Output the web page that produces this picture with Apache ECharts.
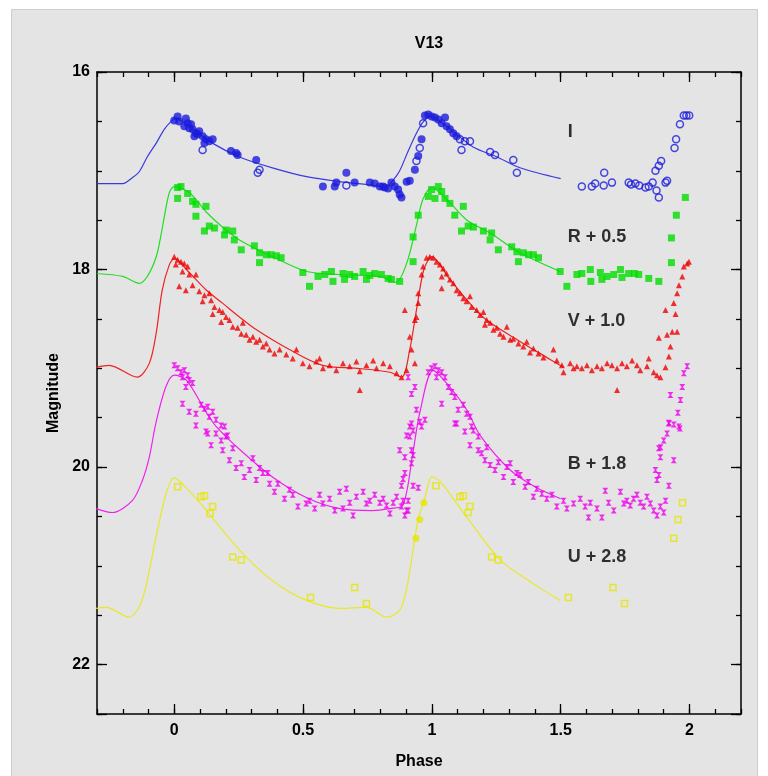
<!DOCTYPE html>
<html>
<head>
<meta charset="utf-8">
<script src="https://cdn.jsdelivr.net/npm/echarts@6/dist/echarts.min.js"></script>
<style>
html,body{margin:0;padding:0;background:#fff;}
#chart{width:768px;height:776px;}
</style>
</head>
<body>
<div id="chart"></div>
<script>
// ---------- tick values ----------
const xMajor = [0, 0.5, 1, 1.5, 2];
const xMinor = [-0.3,-0.2,-0.1,0,0.1,0.2,0.3,0.4,0.5,0.6,0.7,0.8,0.9,1,1.1,1.2,1.3,1.4,1.5,1.6,1.7,1.8,1.9,2,2.1,2.2];
const yLabels = [16, 18, 20, 22];

// ---------- template curves [phase, magnitude] ----------
const iCurve = [[-0.3,17.13],[-0.2,17.13],[-0.163,17.07],[-0.136,17.01],[-0.105,16.86],[-0.07,16.72],[-0.039,16.58],[-0.012,16.50],[0.004,16.47],[0.058,16.55],[0.148,16.72],[0.253,16.86],[0.381,16.97],[0.514,17.06],[0.642,17.11],[0.75,17.14],[0.82,17.16],[0.848,17.10],[0.875,17.00],[0.908,16.80],[0.94,16.62],[0.965,16.51],[0.992,16.45],[1.058,16.55],[1.16,16.76],[1.253,16.86],[1.342,16.97],[1.5,17.08]];
const rCurve = [[-0.3,18.04],[-0.2,18.07],[-0.136,18.14],[-0.105,18.07],[-0.07,17.87],[-0.05,17.63],[-0.039,17.47],[-0.019,17.22],[0.0,17.16],[0.058,17.22],[0.125,17.42],[0.187,17.57],[0.253,17.70],[0.381,17.87],[0.514,18.02],[0.642,18.05],[0.798,18.07],[0.86,18.13],[0.903,17.93],[0.942,17.53],[0.965,17.29],[1.0,17.17],[1.058,17.29],[1.136,17.50],[1.226,17.63],[1.342,17.83],[1.498,18.02]];
const vCurve = [[-0.303,18.99],[-0.253,18.97],[-0.144,19.09],[-0.097,18.95],[-0.07,18.64],[-0.047,18.21],[-0.019,17.95],[0.0,17.89],[0.058,18.03],[0.125,18.21],[0.187,18.34],[0.253,18.48],[0.319,18.61],[0.447,18.81],[0.576,18.97],[0.708,19.00],[0.837,19.04],[0.883,19.09],[0.914,18.81],[0.942,18.38],[0.969,18.0],[1.0,17.87],[1.07,18.10],[1.198,18.48],[1.331,18.71],[1.459,18.91],[1.51,18.99]];
const bCurve = [[-0.303,20.42],[-0.241,20.46],[-0.163,20.34],[-0.123,20.13],[-0.097,19.90],[-0.071,19.55],[-0.033,19.19],[0.0,19.07],[0.047,19.12],[0.125,19.45],[0.163,19.59],[0.253,19.82],[0.381,20.10],[0.514,20.31],[0.642,20.42],[0.77,20.44],[0.837,20.42],[0.887,20.39],[0.926,19.86],[0.953,19.45],[1.005,19.02],[1.07,19.19],[1.135,19.42],[1.19,19.69],[1.304,20.03],[1.4,20.20],[1.5,20.32]];
const uCurve = [[-0.303,21.43],[-0.265,21.42],[-0.175,21.52],[-0.125,21.35],[-0.071,20.71],[-0.032,20.27],[0.0,20.11],[0.047,20.21],[0.125,20.44],[0.253,20.84],[0.381,21.15],[0.514,21.35],[0.642,21.43],[0.747,21.42],[0.825,21.52],[0.875,21.45],[0.903,21.22],[0.946,20.54],[0.973,20.31],[1.0,20.10],[1.031,20.14],[1.136,20.51],[1.265,20.94],[1.393,21.18],[1.498,21.35]];

// ---------- observed points [phase, magnitude] ----------
const iFilled = [[0.0,16.49],[0.013,16.45],[0.019,16.50],[0.045,16.47],[0.052,16.52],[0.039,16.55],[0.058,16.57],[0.071,16.58],[0.084,16.62],[0.097,16.60],[0.110,16.65],[0.123,16.68],[0.136,16.70],[0.149,16.68],[0.117,16.72],[0.091,16.63],[0.065,16.53],[0.078,16.65],[0.22,16.80],[0.24,16.82],[0.246,16.84],[0.318,16.89],[0.577,17.16],[0.623,17.16],[0.629,17.12],[0.668,17.02],[0.70,17.12],[0.759,17.12],[0.778,17.13],[0.798,17.16],[0.817,17.17],[0.83,17.18],[0.81,17.16],[0.843,17.12],[0.856,17.16],[0.869,17.19],[0.875,17.24],[0.882,17.27],[0.902,17.11],[0.914,17.10],[0.934,16.99],[0.947,16.85],[0.96,16.68],[0.973,16.44],[0.986,16.43],[0.999,16.45],[1.012,16.46],[1.025,16.48],[1.038,16.52],[1.051,16.46],[1.057,16.55],[1.07,16.58],[1.083,16.62],[1.096,16.65]];
const iOpen = [[0.110,16.79],[0.324,17.02],[0.331,16.99],[0.668,17.15],[0.94,16.90],[0.953,16.77],[0.966,16.52],[1.109,16.68],[1.128,16.70],[1.148,16.70],[1.115,16.79],[1.226,16.81],[1.245,16.84],[1.316,16.89],[1.33,17.02],[1.582,17.16],[1.621,17.16],[1.634,17.13],[1.667,17.15],[1.669,17.02],[1.699,17.12],[1.764,17.12],[1.773,17.14],[1.79,17.13],[1.805,17.15],[1.829,17.17],[1.842,17.16],[1.857,17.12],[1.872,17.20],[1.881,17.27],[1.907,17.12],[1.913,17.10],[1.868,17.00],[1.881,16.95],[1.89,16.90],[1.942,16.77],[1.948,16.68],[1.963,16.53],[1.978,16.44],[1.988,16.44],[1.999,16.44]];
const rPoints = [[0.013,17.17],[0.013,17.28],[0.026,17.16],[0.052,17.23],[0.071,17.31],[0.084,17.34],[0.084,17.46],[0.123,17.36],[0.117,17.61],[0.136,17.56],[0.156,17.58],[0.201,17.60],[0.195,17.65],[0.227,17.61],[0.233,17.70],[0.26,17.80],[0.311,17.76],[0.331,17.83],[0.331,17.93],[0.357,17.85],[0.376,17.85],[0.396,17.86],[0.415,17.88],[0.499,18.03],[0.525,18.17],[0.558,18.07],[0.584,18.05],[0.61,18.02],[0.616,18.12],[0.655,18.04],[0.661,18.10],[0.681,18.05],[0.70,18.07],[0.733,18.02],[0.746,18.10],[0.759,18.06],[0.778,18.04],[0.804,18.05],[0.83,18.09],[0.843,18.10],[0.875,18.12],[0.927,17.92],[0.927,17.67],[0.947,17.45],[0.986,17.26],[0.999,17.19],[1.012,17.28],[1.025,17.16],[1.038,17.21],[1.051,17.28],[1.07,17.33],[1.089,17.45],[1.122,17.36],[1.115,17.61],[1.141,17.56],[1.161,17.57],[1.2,17.61],[1.232,17.63],[1.226,17.70],[1.258,17.80],[1.31,17.77],[1.33,17.82],[1.336,17.92],[1.355,17.83],[1.375,17.85],[1.394,17.85],[1.414,17.88],[1.498,18.02],[1.524,18.17],[1.563,18.05],[1.582,18.04],[1.615,18.00],[1.617,18.12],[1.654,18.03],[1.66,18.10],[1.68,18.07],[1.706,18.05],[1.732,18.00],[1.738,18.08],[1.764,18.04],[1.786,18.04],[1.803,18.05],[1.842,18.09],[1.881,18.12],[1.984,17.27],[1.949,17.45],[1.93,17.68],[1.93,17.93]];
const vPoints = [[0.0,17.87],[0.013,17.90],[0.026,17.92],[0.039,17.94],[0.006,17.95],[0.052,17.97],[0.032,18.02],[0.058,18.05],[0.084,18.05],[0.019,18.17],[0.045,18.21],[0.071,18.16],[0.097,18.22],[0.117,18.26],[0.136,18.24],[0.11,18.32],[0.143,18.31],[0.156,18.38],[0.175,18.41],[0.188,18.43],[0.201,18.48],[0.149,18.45],[0.182,18.53],[0.214,18.51],[0.227,18.58],[0.246,18.59],[0.266,18.54],[0.26,18.65],[0.279,18.66],[0.292,18.71],[0.305,18.68],[0.318,18.73],[0.331,18.71],[0.344,18.78],[0.357,18.75],[0.37,18.81],[0.389,18.85],[0.409,18.81],[0.435,18.86],[0.46,18.90],[0.474,18.81],[0.499,18.95],[0.525,18.98],[0.551,18.93],[0.564,18.90],[0.577,19.00],[0.603,18.97],[0.629,19.02],[0.655,18.95],[0.681,18.98],[0.707,18.93],[0.72,19.03],[0.746,18.97],[0.772,18.92],[0.785,19.00],[0.811,18.95],[0.837,18.98],[0.863,19.05],[0.882,19.09],[0.902,19.02],[0.72,19.22],[0.895,18.41],[0.914,18.68],[0.921,18.81],[0.934,18.51],[0.947,18.34],[0.934,18.95],[0.94,18.48],[0.947,18.24],[0.96,18.05],[0.966,17.97],[0.979,17.88],[0.992,17.87],[1.005,17.88],[1.018,17.92],[1.031,17.95],[1.044,17.99],[1.038,18.07],[1.057,18.04],[1.07,18.10],[1.083,18.14],[1.038,18.19],[1.096,18.21],[1.109,18.24],[1.122,18.29],[1.135,18.32],[1.148,18.27],[1.154,18.38],[1.174,18.41],[1.187,18.46],[1.2,18.43],[1.213,18.51],[1.226,18.54],[1.206,18.56],[1.239,18.61],[1.252,18.59],[1.265,18.65],[1.278,18.68],[1.291,18.58],[1.304,18.71],[1.316,18.70],[1.336,18.75],[1.355,18.78],[1.368,18.73],[1.381,18.84],[1.394,18.80],[1.414,18.85],[1.433,18.89],[1.472,18.81],[1.485,18.92],[1.505,18.97],[1.511,19.04],[1.537,18.95],[1.55,19.00],[1.563,18.98],[1.582,19.00],[1.602,18.97],[1.621,19.02],[1.641,18.98],[1.66,19.00],[1.68,18.95],[1.699,18.97],[1.719,19.00],[1.738,18.95],[1.757,18.98],[1.777,18.92],[1.796,18.97],[1.809,19.02],[1.835,18.98],[1.842,18.90],[1.861,19.04],[1.874,19.07],[1.887,19.09],[1.719,19.22],[1.907,18.99],[1.92,18.88],[1.926,18.78],[1.933,18.63],[1.952,18.63],[1.881,18.69],[1.913,18.66],[1.907,18.41],[1.946,18.45],[1.939,18.34],[1.952,18.24],[1.959,18.16],[1.972,18.07],[1.978,17.97],[1.991,17.94],[1.998,17.92]];
const bPoints = [[0.0,18.97],[0.013,19.00],[0.026,19.04],[0.039,19.02],[0.052,19.07],[0.032,19.09],[0.058,19.12],[0.045,19.19],[0.071,19.15],[0.032,19.36],[0.058,19.44],[0.084,19.46],[0.104,19.37],[0.117,19.41],[0.13,19.39],[0.136,19.49],[0.149,19.44],[0.162,19.52],[0.182,19.58],[0.195,19.59],[0.123,19.64],[0.162,19.66],[0.207,19.68],[0.084,19.58],[0.13,19.66],[0.143,19.78],[0.182,19.73],[0.188,19.83],[0.201,19.69],[0.214,19.93],[0.227,19.81],[0.24,20.01],[0.26,19.96],[0.272,20.10],[0.292,20.03],[0.305,19.91],[0.318,20.13],[0.331,20.01],[0.344,20.06],[0.37,20.17],[0.363,20.06],[0.389,20.25],[0.402,20.17],[0.428,20.32],[0.447,20.23],[0.46,20.28],[0.48,20.40],[0.512,20.37],[0.525,20.34],[0.545,20.42],[0.564,20.28],[0.577,20.37],[0.603,20.32],[0.623,20.44],[0.642,20.25],[0.655,20.42],[0.668,20.22],[0.681,20.36],[0.694,20.49],[0.707,20.30],[0.733,20.25],[0.746,20.37],[0.759,20.34],[0.778,20.28],[0.798,20.36],[0.811,20.32],[0.824,20.39],[0.837,20.47],[0.85,20.36],[0.863,20.30],[0.882,20.40],[0.895,20.49],[0.908,20.44],[0.921,19.96],[0.927,19.88],[0.875,19.83],[0.888,20.12],[0.895,19.90],[0.914,19.69],[0.921,19.56],[0.947,20.21],[0.908,20.34],[0.908,19.09],[0.921,19.26],[0.934,19.19],[0.94,19.42],[0.953,19.54],[0.96,19.59],[0.973,19.52],[0.927,19.63],[0.986,19.04],[0.999,19.00],[1.012,18.98],[1.025,19.02],[1.018,19.09],[1.038,19.04],[1.051,19.09],[1.064,19.19],[1.077,19.24],[1.038,19.36],[1.089,19.29],[1.102,19.42],[1.122,19.37],[1.135,19.46],[1.148,19.49],[1.096,19.56],[1.128,19.64],[1.154,19.59],[1.18,19.69],[1.888,19.80],[0.902,19.68],[0.914,19.59],[0.921,19.83],[0.895,20.06],[0.882,20.19],[0.888,20.34],[0.902,20.44],[0.927,20.19],[1.089,19.56],[1.148,19.78],[1.161,19.63],[1.18,19.83],[1.193,19.86],[1.213,19.80],[1.206,19.93],[1.226,19.98],[1.245,20.03],[1.258,19.95],[1.278,20.10],[1.291,20.00],[1.304,19.96],[1.316,20.15],[1.33,20.06],[1.342,20.08],[1.362,20.20],[1.375,20.15],[1.394,20.30],[1.407,20.22],[1.427,20.27],[1.446,20.32],[1.466,20.28],[1.485,20.40],[1.511,20.34],[1.524,20.42],[1.55,20.37],[1.576,20.32],[1.595,20.40],[1.615,20.36],[1.608,20.51],[1.641,20.42],[1.66,20.51],[1.673,20.24],[1.686,20.36],[1.706,20.44],[1.732,20.25],[1.745,20.37],[1.757,20.34],[1.77,20.39],[1.783,20.32],[1.796,20.28],[1.809,20.36],[1.822,20.40],[1.835,20.30],[1.848,20.37],[1.861,20.44],[1.874,20.49],[1.887,20.40],[1.907,20.34],[1.9,20.46],[1.92,20.19],[1.874,20.13],[1.868,20.03],[1.887,19.90],[1.881,19.81],[1.9,19.73],[1.913,19.66],[1.92,19.56],[1.959,19.59],[1.939,19.93],[1.881,20.08],[1.991,18.98],[1.978,19.05],[1.972,19.19],[1.926,19.27],[1.965,19.32],[1.955,19.45],[1.92,19.55],[1.939,19.57],[1.963,19.61]];
const uOpen = [[0.013,20.20],[0.104,20.30],[0.117,20.29],[0.149,20.40],[0.139,20.47],[0.227,20.91],[0.26,20.94],[0.529,21.32],[0.70,21.22],[0.746,21.38],[1.016,20.19],[1.109,20.30],[1.122,20.29],[1.148,20.40],[1.141,20.46],[1.232,20.91],[1.258,20.94],[1.53,21.32],[1.703,21.22],[1.748,21.38],[1.939,20.72],[1.956,20.53],[1.973,20.36]];
const uFilled = [[0.938,20.72],[0.953,20.53],[0.969,20.36]];

// ---------- band annotations ----------
const bandNames = ['I', 'R + 0.5', 'V + 1.0', 'B + 1.8', 'U + 2.8'];
const bandNamePhase = [1.529, 1.529, 1.529, 1.529, 1.529];
const bandNameMag = [16.61, 17.68, 18.53, 19.97, 20.92];

const FONT = '"Liberation Sans", Arial, sans-serif';
const COL = {I:'#1c1cdc', R:'#00dd00', V:'#ee0000', B:'#ee00ee', U:'#e6e600'};
const LINECOL = {I:'#3a3ae0', R:'#22dd22', V:'#ee2222', B:'#ee22ee', U:'#e8e82a'};
const bowtie = 'path://M0,0L10,0L6,5L10,10L0,10L4,5Z';

const chart = echarts.init(document.getElementById('chart'), null, {renderer:'canvas'});

function xAxisDef(pos, ticks, len, showLine, showLabel, name) {
  return {
    type:'value', position:pos, min:-0.3, max:2.2,
    axisLine:{show:showLine, onZero:false, lineStyle:{color:'#000', width:1.5}},
    axisTick:{show:true, inside:true, length:len, customValues:ticks, lineStyle:{color:'#000', width:1.3}},
    axisLabel:{show:showLabel, customValues:xMajor, margin:9, color:'#000', fontSize:16, fontWeight:'bold', fontFamily:FONT,
      formatter:function(v){return String(Math.round(v*10)/10);}},
    splitLine:{show:false},
    name:name||'', nameLocation:'middle', nameGap:40,
    nameTextStyle:{color:'#000', fontSize:16, fontWeight:'bold', fontFamily:FONT}
  };
}
function yAxisDef(pos, interval, len, showLine, showLabel, name) {
  return {
    type:'value', position:pos, min:16, max:22.5, interval:interval, inverse:true,
    axisLine:{show:showLine, onZero:false, lineStyle:{color:'#000', width:1.5}},
    axisTick:{show:true, inside:true, length:len, lineStyle:{color:'#000', width:1.3}},
    axisLabel:{show:showLabel, margin:7, color:'#000', fontSize:16, fontWeight:'bold', fontFamily:FONT,
      formatter:function(v){return yLabels.indexOf(v) >= 0 ? String(v) : '';}},
    splitLine:{show:false},
    name:name||'', nameLocation:'middle', nameGap:34,
    nameTextStyle:{color:'#000', fontSize:16, fontWeight:'bold', fontFamily:FONT}
  };
}

function curve(data, color) {
  return {type:'line', data:data, xAxisIndex:0, yAxisIndex:0, showSymbol:false, symbol:'none',
    smooth:0.3, lineStyle:{color:color, width:1.2}, silent:true, z:2};
}
function pts(data, symbol, size, color, hollow) {
  return {type:'scatter', data:data, xAxisIndex:0, yAxisIndex:0, symbol:symbol, symbolSize:size,
    itemStyle: hollow ? {color:'rgba(0,0,0,0)', borderColor:color, borderWidth:1.5} : {color:color},
    silent:true, z:3};
}

const labelData = bandNames.map(function(n, i){ return {name:n, value:[bandNamePhase[i], bandNameMag[i]]}; });

chart.setOption({
  animation:false,
  backgroundColor:'#ffffff',
  graphic:[
    {type:'rect', left:11, top:9, shape:{width:746, height:770}, style:{fill:'#e4e4e4', stroke:'#cdcdcd', lineWidth:1}, z:-10},
    {type:'text', x:429, y:44, style:{text:'V13', fill:'#000', font:'bold 16px ' + FONT, textAlign:'center', textVerticalAlign:'middle'}, z:10}
  ],
  grid:{left:97, right:27, top:72, bottom:62, containLabel:false},
  xAxis:[
    xAxisDef('bottom', xMinor, 5, true, true, 'Phase'),
    xAxisDef('bottom', xMajor, 10, false, false),
    xAxisDef('top', xMinor, 5, true, false),
    xAxisDef('top', xMajor, 10, false, false)
  ],
  yAxis:[
    yAxisDef('left', 0.5, 5, true, true, 'Magnitude'),
    yAxisDef('left', 2, 10, false, false),
    yAxisDef('right', 0.5, 5, true, false),
    yAxisDef('right', 2, 10, false, false)
  ],
  series:[
    curve(iCurve, LINECOL.I),
    curve(rCurve, LINECOL.R),
    curve(vCurve, LINECOL.V),
    curve(bCurve, LINECOL.B),
    curve(uCurve, LINECOL.U),
    pts(iFilled, 'circle', 8, COL.I, false),
    pts(iOpen, 'circle', 7, COL.I, true),
    pts(rPoints, 'rect', 7, COL.R, false),
    pts(vPoints, 'triangle', 6, COL.V, false),
    pts(bPoints, bowtie, 6, COL.B, false),
    pts(uOpen, 'rect', 6, COL.U, true),
    pts(uFilled, 'circle', 7, COL.U, false),
    {type:'scatter', data:labelData, xAxisIndex:0, yAxisIndex:0, symbolSize:1, itemStyle:{color:'rgba(0,0,0,0)'},
      label:{show:true, position:[0,0], align:'left', verticalAlign:'middle', formatter:'{b}',
        color:'#000', fontSize:18, fontWeight:'bold', fontFamily:FONT}, silent:true, z:5}
  ]
});
</script>
</body>
</html>
